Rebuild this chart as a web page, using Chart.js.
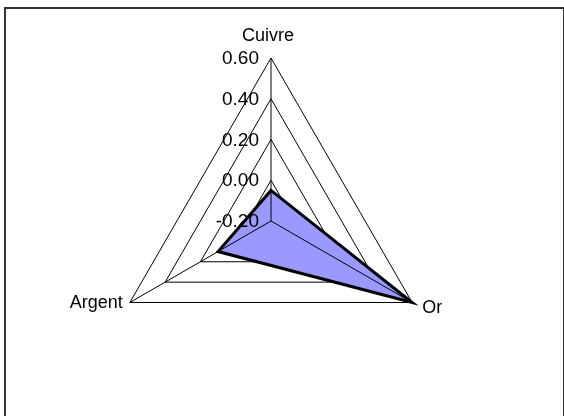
<!DOCTYPE html>
<html>
<head>
<meta charset="utf-8">
<script src="https://cdn.jsdelivr.net/npm/chart.js@4.4.0/dist/chart.umd.min.js"></script>
<style>
    html, body { margin: 0; padding: 0; background: #fff; }
    #wrap { position: absolute; left: 0; top: 0; width: 564px; height: 416px; }
    #cadre { position: absolute; left: 4px; top: 7px; width: 557px; height: 420px; border: 2px solid #333; pointer-events: none; }
</style>
</head>
<body>
<div id="wrap"><canvas id="radar"></canvas></div>
<div id="cadre"></div>
<script>
// Données du graphique
const categories = ['Cuivre', 'Or', 'Argent'];
const valeurs = [-0.05, 0.60, 0.10];
const graduations = [-0.20, 0.00, 0.20, 0.40, 0.60];

const police = '"Liberation Sans", Arial, sans-serif';

// Axes dessinés par-dessus la surface remplie (comme dans Excel)
const axesPlugin = {
    id: 'axesDessus',
    afterDatasetsDraw(chart) {
        const r = chart.scales.r;
        const ctx = chart.ctx;
        ctx.save();
        ctx.strokeStyle = '#000';
        ctx.lineWidth = 1;
        categories.forEach((nom, i) => {
            const p = r.getPointPositionForValue(i, r.max);
            ctx.beginPath();
            ctx.moveTo(r.xCenter, r.yCenter);
            ctx.lineTo(p.x, p.y);
            ctx.stroke();
        });
        ctx.restore();
    }
};

// Étiquettes dessinées à la main pour les placer comme dans Excel
const etiquettesPlugin = {
    id: 'etiquettes',
    afterDraw(chart) {
        const r = chart.scales.r;
        const ctx = chart.ctx;
        ctx.save();
        ctx.fillStyle = '#000';

        // graduations à gauche de l'axe vertical
        ctx.font = '19px ' + police;
        ctx.textAlign = 'right';
        ctx.textBaseline = 'middle';
        graduations.forEach(v => {
            const y = r.yCenter - r.getDistanceFromCenterForValue(v);
            ctx.fillText(v.toFixed(2), r.xCenter - 12, y + 1);
        });

        // noms des axes
        ctx.font = '18px ' + police;
        categories.forEach((nom, i) => {
            const p = r.getPointPositionForValue(i, r.max);
            if (Math.abs(p.x - r.xCenter) < 2) {
                ctx.textAlign = 'center';
                ctx.textBaseline = 'alphabetic';
                ctx.fillText(nom, p.x - 3, p.y - 17);
            } else if (p.x < r.xCenter) {
                ctx.textAlign = 'right';
                ctx.textBaseline = 'middle';
                ctx.fillText(nom, p.x - 7, p.y + 1);
            } else {
                ctx.textAlign = 'left';
                ctx.textBaseline = 'middle';
                ctx.fillText(nom, p.x + 10, p.y + 6);
            }
        });
        ctx.restore();
    }
};

const ctx = document.getElementById('radar').getContext('2d');
new Chart(ctx, {
    type: 'radar',
    data: {
        labels: categories,
        datasets: [{
            data: valeurs,
            backgroundColor: '#9999FF',
            borderColor: '#000',
            borderWidth: 3,
            pointRadius: 0,
            tension: 0,
            fill: 'start'
        }]
    },
    options: {
        responsive: true,
        maintainAspectRatio: false,
        animation: false,
        layout: {
            padding: { left: 108, right: 130, top: 58, bottom: 32 }
        },
        plugins: {
            legend: { display: false },
            tooltip: { enabled: false }
        },
        scales: {
            r: {
                min: -0.2,
                max: 0.6,
                ticks: { stepSize: 0.2, display: false },
                pointLabels: { display: false },
                grid: { color: '#000', lineWidth: 1 },
                angleLines: { display: false }
            }
        }
    },
    plugins: [axesPlugin, etiquettesPlugin]
});
</script>
</body>
</html>
